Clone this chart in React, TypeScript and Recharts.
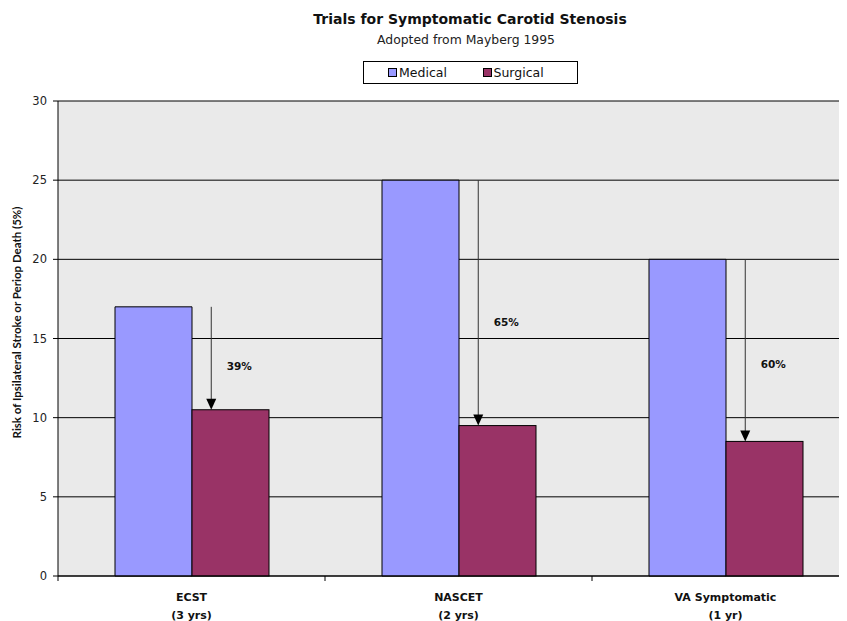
import React from 'react';
import { BarChart, Bar, XAxis, YAxis, CartesianGrid, Label } from 'recharts';

const categories = ['ECST', 'NASCET', 'VA Symptomatic'];
const periods = ['(3 yrs)', '(2 yrs)', '(1 yr)'];
const medical = [17, 25, 20];
const surgical = [10.5, 9.5, 8.5];
const reductions = ['39%', '65%', '60%'];
const yTicks = [0, 5, 10, 15, 20, 25, 30];

const series = [
  { key: 'medical', name: 'Medical', color: '#9999FF' },
  { key: 'surgical', name: 'Surgical', color: '#993366' },
];

const data = categories.map((name, i) => ({
  name,
  medical: medical[i],
  surgical: surgical[i],
  reduction: reductions[i],
}));

const FONT = '"DejaVu Sans", sans-serif';
const NARROW = 'Lato, "DejaVu Sans", sans-serif';

// x-axis: two-line category label, tick mark on the left category boundary
const CategoryTick = (props: any) => {
  const { x, y, payload, index } = props;
  const half = payload?.offset ?? 0;
  return (
    <g>
      <line x1={x - half} x2={x - half} y1={y} y2={y + 5} stroke="#000" />
      <text x={x} y={y + 25} textAnchor="middle" fontFamily={FONT} fontWeight="bold" fontSize={11} fill="#111">
        {categories[index]}
      </text>
      <text x={x} y={y + 43} textAnchor="middle" fontFamily={FONT} fontWeight="bold" fontSize={11} fill="#111">
        {periods[index]}
      </text>
    </g>
  );
};

// surgical bar plus an arrow dropping from the medical value, with the risk reduction
const SurgicalShape = (props: any) => {
  const { x, y, width, height, fill, payload } = props;
  const base = y + height;
  const top = base - (height * payload.medical) / payload.surgical;
  const ax = x + width / 4;
  return (
    <g>
      <rect x={x} y={y} width={width} height={height} fill={fill} stroke="#000" strokeWidth={1} />
      <line x1={ax} x2={ax} y1={top} y2={y - 9} stroke="#333" strokeWidth={1} />
      <polygon points={`${ax - 5},${y - 11} ${ax + 5},${y - 11} ${ax},${y}`} fill="#000" />
      <text
        x={ax + 28}
        y={top + (y - top) * 0.58}
        textAnchor="middle"
        dominantBaseline="middle"
        fontFamily={FONT}
        fontWeight="bold"
        fontSize={10.5}
        fill="#111"
      >
        {payload.reduction}
      </text>
    </g>
  );
};

const YTitle = (props: any) => {
  const { viewBox } = props;
  const cx = viewBox.x + 10;
  const cy = viewBox.y + viewBox.height / 2 - 16;
  return (
    <text
      x={cx}
      y={cy}
      transform={`rotate(-90, ${cx}, ${cy})`}
      textAnchor="middle"
      dominantBaseline="middle"
      fontFamily={NARROW}
      fontWeight="bold"
      fontSize={11.5}
      fill="#111"
    >
      Risk of Ipsilateral Stroke or Periop Death (5%)
    </text>
  );
};

export default function App() {
  return (
    <div style={{ position: 'relative', width: 839, height: 613, overflow: 'hidden', fontFamily: FONT }}>
      <div
        style={{
          position: 'absolute',
          left: 462,
          top: 3,
          transform: 'translateX(-50%)',
          whiteSpace: 'nowrap',
          fontWeight: 'bold',
          fontSize: 14,
          lineHeight: '16px',
          color: '#111',
        }}
      >
        Trials for Symptomatic Carotid Stenosis
      </div>
      <div
        style={{
          position: 'absolute',
          left: 458,
          top: 25,
          transform: 'translateX(-50%)',
          whiteSpace: 'nowrap',
          fontSize: 12.4,
          lineHeight: '14px',
          color: '#222',
        }}
      >
        Adopted from Mayberg 1995
      </div>
      <div
        style={{
          position: 'absolute',
          left: 355,
          top: 53,
          width: 215,
          height: 23,
          boxSizing: 'border-box',
          border: '1px solid #000',
          background: '#fff',
          display: 'flex',
          alignItems: 'center',
          paddingLeft: 24,
          zIndex: 2,
        }}
      >
        {series.map((s) => (
          <div key={s.key} style={{ width: 106, display: 'flex', alignItems: 'center', fontSize: 12.5, color: '#111' }}>
            <span
              style={{
                display: 'inline-block',
                width: 9,
                height: 9,
                boxSizing: 'border-box',
                background: s.color,
                border: '1px solid #000',
                marginRight: 2,
              }}
            />
            {s.name}
          </div>
        ))}
      </div>
      <BarChart
        width={860}
        height={613}
        data={data}
        margin={{ top: 93, right: 9, bottom: 0, left: 0 }}
        barCategoryGap={57}
        barGap={0}
      >
        <CartesianGrid vertical={false} stroke="#000" fill="#EAEAEA" />
        <XAxis
          dataKey="name"
          height={45}
          tickLine={false}
          tickSize={0}
          tickMargin={0}
          axisLine={{ stroke: '#000' }}
          tick={<CategoryTick />}
          interval={0}
        />
        <YAxis
          width={50}
          domain={[0, 30]}
          ticks={yTicks}
          interval={0}
          tickSize={5}
          tickMargin={6}
          tickLine={{ stroke: '#000' }}
          axisLine={{ stroke: '#000' }}
          tick={{ fontFamily: FONT, fontSize: 11.5, fill: '#222' }}
        >
          <Label content={<YTitle />} />
        </YAxis>
        <Bar dataKey="medical" name="Medical" fill="#9999FF" stroke="#000" strokeWidth={1} isAnimationActive={false} />
        <Bar
          dataKey="surgical"
          name="Surgical"
          fill="#993366"
          shape={<SurgicalShape />}
          isAnimationActive={false}
        />
      </BarChart>
    </div>
  );
}
